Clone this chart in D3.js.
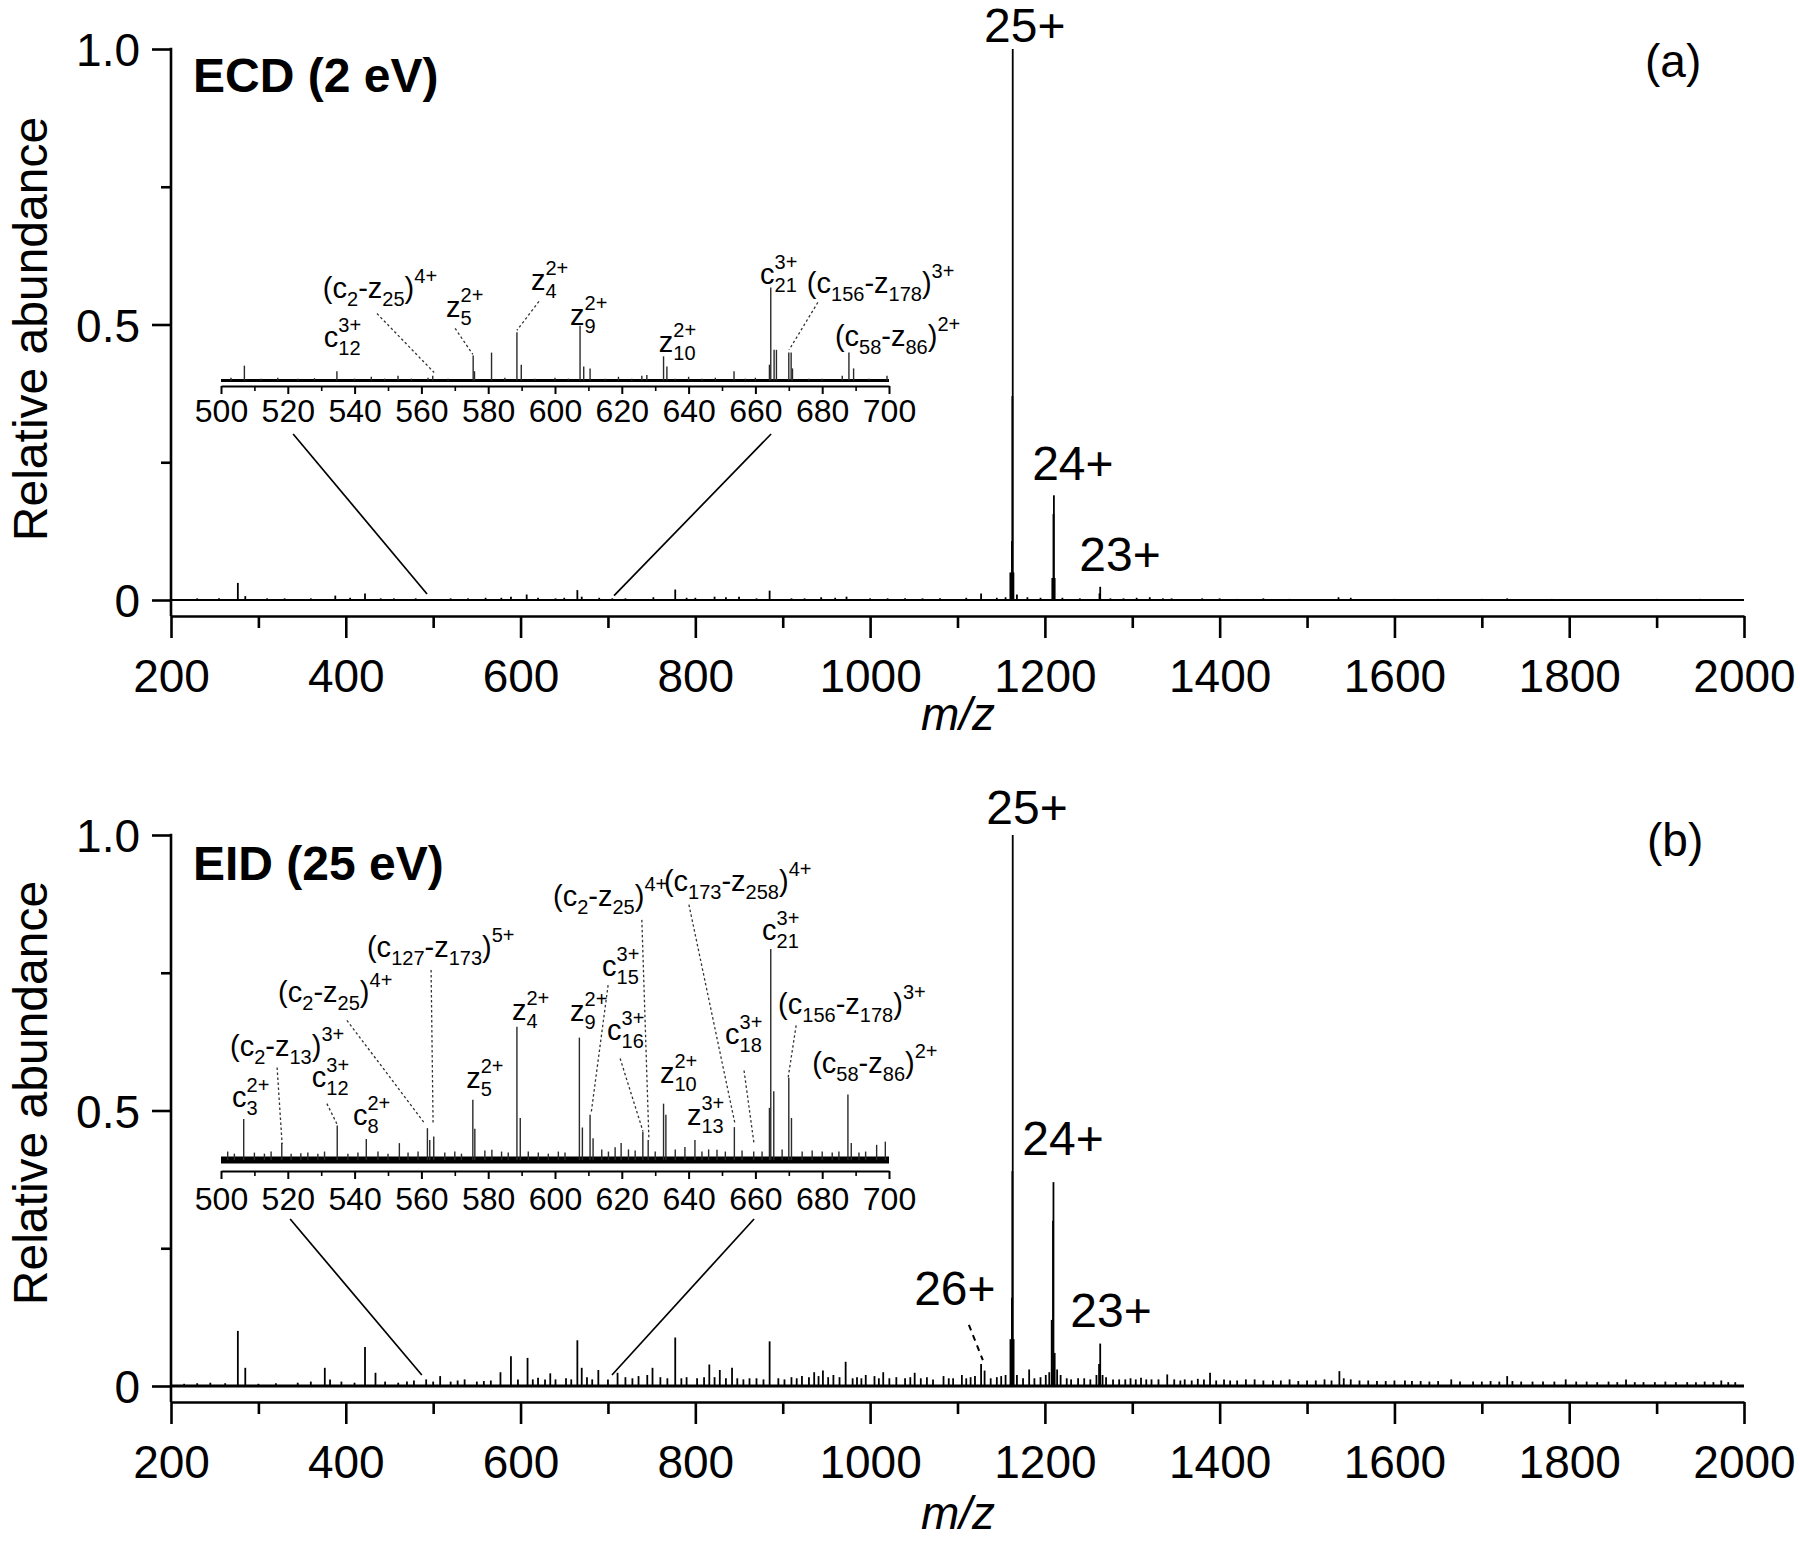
<!DOCTYPE html>
<html><head><meta charset="utf-8">
<script src="https://cdn.jsdelivr.net/npm/d3@7"></script>
<style>
body{margin:0;background:#fff}
svg{display:block;background:#fff}
</style>
</head><body>
<script>
// ---------------- DATA ----------------
const xTicksMajor = [200,400,600,800,1000,1200,1400,1600,1800,2000];
const xTicksMinor = [300,500,700,900,1100,1300,1500,1700,1900];
const yTicksMajor = [0,0.5,1.0];
const yTicksMinor = [0.25,0.75];
const insetTicksMajor = [500,520,540,560,580,600,620,640,660,680,700];
const insetTicksMinor = [510,530,550,570,590,610,630,650,670,690];

// (a) ECD main spectrum: [m/z, relative abundance]
const ecdPeaks = [
[230,0.003],[255,0.003],[276.5,0.031],[285,0.007],[310,0.003],[330,0.003],[360,0.003],[388,0.008],[405,0.004],[422,0.012],[440,0.003],[455,0.003],[480,0.003],[520,0.003],[540,0.003],[560,0.004],[578,0.004],[589,0.006],[607,0.010],[620,0.004],[640,0.003],[650,0.004],[665,0.018],[670,0.006],[690,0.004],[705,0.003],[720,0.003],[752,0.005],[777,0.019],[790,0.004],[800,0.004],[822,0.006],[835,0.005],[850,0.006],[870,0.003],[885,0.017],[910,0.003],[925,0.003],[944,0.005],[960,0.004],[973,0.006],[1000,0.003],[1020,0.003],[1040,0.003],[1060,0.003],[1080,0.003],[1110,0.004],[1127,0.012],[1145,0.004],[1155,0.005],[1160.5,0.05],[1162.3,0.107],[1162.8,0.37],[1163.2,1.0],[1164.0,0.05],[1168,0.01],[1180,0.005],[1195,0.004],[1208.5,0.04],[1209.8,0.156],[1210.3,0.19],[1211.2,0.04],[1220,0.004],[1240,0.003],[1262.5,0.012],[1263.3,0.024],[1275,0.003],[1290,0.003],[1305,0.004],[1320,0.005],[1335,0.003],[1345,0.003],[1380,0.003],[1400,0.003],[1420,0.002],[1450,0.003],[1480,0.002],[1500,0.002],[1536,0.005],[1550,0.004],[1600,0.002],[1650,0.002],[1700,0.002],[1729,0.003],[1780,0.002],[1850,0.002],[1900,0.002],[1950,0.002]
];

// (b) EID main spectrum: [m/z, relative abundance]
const eidPeaks = [
[215,0.004],[230,0.005],[245,0.006],[262,0.005],[276.5,0.10],[285,0.033],[300,0.004],[320,0.005],[345,0.006],[360,0.008],[376,0.033],[382,0.012],[395,0.008],[410,0.006],[422,0.071],[434,0.024],[445,0.008],[460,0.006],[470,0.008],[478,0.010],[492,0.012],[500,0.008],[508,0.018],[520,0.008],[528,0.010],[536,0.012],[550,0.008],[558,0.009],[566,0.010],[577,0.025],[589,0.054],[597,0.012],[608,0.051],[614,0.012],[620,0.015],[628,0.012],[634,0.023],[640,0.012],[652,0.014],[658,0.012],[665,0.083],[670,0.033],[676,0.016],[682,0.012],[689,0.029],[700,0.012],[711,0.024],[720,0.016],[728,0.014],[735,0.018],[745,0.02],[751,0.033],[760,0.016],[768,0.014],[777,0.088],[784,0.014],[790,0.016],[802,0.014],[810,0.016],[816,0.039],[822,0.016],[828,0.029],[835,0.014],[842,0.033],[848,0.014],[855,0.012],[862,0.014],[870,0.014],[878,0.012],[885,0.081],[895,0.014],[902,0.012],[910,0.016],[916,0.014],[922,0.018],[930,0.016],[936,0.025],[941,0.018],[946,0.028],[952,0.016],[958,0.02],[965,0.016],[972,0.044],[980,0.014],[985,0.016],[990,0.014],[995,0.02],[1005,0.018],[1010,0.014],[1015,0.025],[1022,0.014],[1030,0.016],[1040,0.014],[1046,0.016],[1051,0.024],[1058,0.014],[1065,0.016],[1072,0.012],[1084,0.018],[1090,0.014],[1095,0.014],[1105,0.02],[1110,0.014],[1115,0.016],[1120,0.018],[1127,0.04],[1131,0.028],[1138,0.014],[1145,0.016],[1150,0.018],[1155,0.02],[1160.6,0.085],[1162.3,0.16],[1162.8,0.39],[1163.2,1.0],[1164.2,0.085],[1168,0.02],[1175,0.014],[1182,0.03],[1188,0.014],[1195,0.016],[1201,0.02],[1205,0.025],[1207.8,0.12],[1209.3,0.30],[1209.8,0.37],[1211.2,0.06],[1214,0.03],[1218,0.02],[1225,0.014],[1230,0.012],[1238,0.014],[1245,0.014],[1252,0.012],[1259,0.02],[1262,0.04],[1263.3,0.077],[1266,0.02],[1270,0.016],[1278,0.012],[1285,0.012],[1292,0.012],[1298,0.014],[1304,0.012],[1310,0.015],[1316,0.012],[1322,0.012],[1330,0.012],[1340,0.021],[1348,0.012],[1355,0.01],[1360,0.012],[1368,0.01],[1375,0.013],[1382,0.012],[1389,0.024],[1396,0.01],[1405,0.012],[1412,0.01],[1420,0.01],[1430,0.012],[1440,0.012],[1450,0.01],[1461,0.01],[1470,0.01],[1480,0.012],[1490,0.009],[1500,0.01],[1510,0.01],[1520,0.012],[1528,0.01],[1537,0.027],[1542,0.014],[1550,0.012],[1560,0.01],[1570,0.01],[1580,0.009],[1590,0.009],[1600,0.01],[1612,0.01],[1620,0.009],[1630,0.009],[1640,0.008],[1650,0.009],[1665,0.012],[1675,0.008],[1690,0.008],[1700,0.008],[1710,0.009],[1720,0.008],[1729,0.018],[1735,0.009],[1745,0.008],[1758,0.008],[1770,0.008],[1783,0.008],[1796,0.012],[1808,0.008],[1820,0.008],[1832,0.007],[1845,0.008],[1855,0.007],[1865,0.012],[1875,0.007],[1885,0.007],[1898,0.007],[1910,0.008],[1922,0.007],[1935,0.007],[1945,0.007],[1955,0.008],[1965,0.007],[1974,0.01],[1982,0.007],[1990,0.007]
];

// inset (500-700) spectra, intensity relative to the c21(3+) peak
const ecdInsetPeaks = [
[503,0.03],[507.0,0.16],[512,0.02],[517,0.03],[523,0.02],[528,0.025],[534.7,0.10],[540,0.02],[545,0.04],[549,0.02],[553,0.05],[557,0.02],[562,0.03],[563.4,0.05],[568,0.02],[575.5,0.27],[575.9,0.10],[581.0,0.30],[585,0.03],[588.6,0.52],[589.9,0.17],[594,0.02],[600,0.03],[604,0.02],[607.5,0.59],[608.6,0.15],[610.5,0.13],[615,0.02],[619,0.04],[623,0.02],[626,0.05],[627.5,0.06],[632.5,0.26],[633.5,0.15],[636,0.02],[640,0.04],[644,0.02],[648,0.03],[653.6,0.10],[657,0.02],[660,0.03],[664.2,0.17],[664.6,1.0],[665.6,0.33],[666.3,0.33],[670.0,0.30],[670.7,0.30],[671.1,0.13],[676,0.02],[680,0.02],[686,0.05],[688.0,0.30],[689.4,0.13],[694,0.02],[699.4,0.05]
];
const eidInsetPeaks = [
[502,0.04],[504,0.03],[506.8,0.194],[510,0.035],[513,0.03],[515,0.04],[518.2,0.08],[521,0.03],[523.9,0.032],[526,0.035],[529,0.03],[531,0.04],[534.8,0.164],[538,0.03],[541,0.035],[543.5,0.10],[547,0.04],[550,0.03],[553.4,0.08],[556,0.035],[559,0.04],[561.8,0.151],[562.5,0.095],[563.7,0.111],[567,0.035],[570,0.04],[572,0.03],[575.4,0.286],[576.0,0.148],[579,0.045],[581.1,0.048],[584,0.04],[586,0.035],[588.6,0.631],[589.6,0.199],[592,0.04],[595,0.035],[598,0.03],[601,0.04],[603,0.035],[607.3,0.580],[608.2,0.154],[610.5,0.215],[611.4,0.103],[614,0.05],[616,0.04],[618,0.06],[619.8,0.08],[622,0.05],[624,0.045],[626.3,0.135],[627.9,0.095],[630,0.04],[632.5,0.267],[633.2,0.215],[636,0.05],[638.9,0.062],[641.9,0.095],[644,0.04],[646,0.05],[648.5,0.048],[651,0.04],[653.7,0.156],[656,0.045],[659.5,0.04],[662,0.04],[664.2,0.247],[664.6,1.0],[665.5,0.326],[668,0.05],[670.0,0.39],[670.8,0.199],[674,0.04],[677,0.045],[680,0.04],[683,0.035],[685,0.04],[687.7,0.31],[688.7,0.08],[691,0.035],[693,0.04],[696.3,0.072],[698.9,0.087]
];

// fragment annotations: text, label anchor [m/z, rel], optional dotted leader [[m/z,rel],[m/z,rel]]
const ecdInsetLabels = [
{text:"c_{12}^{3+}", at:[530.8,0.355]},
{text:"(c_{2}-z_{25})^{4+}", at:[530.5,0.89], leader:[[546.7,0.72],[563.8,0.086]]},
{text:"z_{5}^{2+}", at:[567.4,0.68], leader:[[570.1,0.56],[575.4,0.28]]},
{text:"z_{4}^{2+}", at:[592.8,0.97], leader:[[595.2,0.85],[588.6,0.54]]},
{text:"z_{9}^{2+}", at:[604.5,0.60]},
{text:"z_{10}^{2+}", at:[631.1,0.31]},
{text:"c_{21}^{3+}", at:[661.4,1.04]},
{text:"(c_{156}-z_{178})^{3+}", at:[675.4,0.94], leader:[[678.7,0.84],[670.1,0.33]]},
{text:"(c_{58}-z_{86})^{2+}", at:[683.8,0.37]}
];
const eidInsetLabels = [
{text:"c_{3}^{2+}", at:[503.3,0.252]},
{text:"(c_{2}-z_{13})^{3+}", at:[502.7,0.495], leader:[[516.8,0.438],[518.3,0.076]]},
{text:"c_{12}^{3+}", at:[527.2,0.348], leader:[[531.7,0.267],[534.7,0.171]]},
{text:"c_{8}^{2+}", at:[539.5,0.167]},
{text:"(c_{2}-z_{25})^{4+}", at:[517.1,0.748], leader:[[537.7,0.662],[561.1,0.171]]},
{text:"(c_{127}-z_{173})^{5+}", at:[543.7,0.962], leader:[[562.9,0.90],[563.5,0.171]]},
{text:"z_{5}^{2+}", at:[573.4,0.343]},
{text:"z_{4}^{2+}", at:[587.1,0.662]},
{text:"z_{9}^{2+}", at:[604.5,0.657]},
{text:"c_{15}^{3+}", at:[614.1,0.871], leader:[[615.9,0.829],[610.8,0.219]]},
{text:"c_{16}^{3+}", at:[615.6,0.567], leader:[[619.5,0.481],[626.3,0.138]]},
{text:"(c_{2}-z_{25})^{4+}", at:[599.4,1.205], leader:[[626.0,1.138],[628.1,0.105]]},
{text:"(c_{173}-z_{258})^{4+}", at:[632.6,1.276], leader:[[640.1,1.21],[653.9,0.171]]},
{text:"z_{10}^{2+}", at:[631.4,0.367]},
{text:"z_{13}^{3+}", at:[639.5,0.167]},
{text:"c_{18}^{3+}", at:[650.9,0.548], leader:[[656.6,0.424],[659.6,0.076]]},
{text:"c_{21}^{3+}", at:[662.0,1.043]},
{text:"(c_{156}-z_{178})^{3+}", at:[666.8,0.69], leader:[[672.2,0.638],[669.8,0.39]]},
{text:"(c_{58}-z_{86})^{2+}", at:[677.0,0.41]}
];

// charge state labels on the main spectra (centre m/z, rel. abundance of baseline)
const ecdCharges = [
{text:"25+", at:[1177,1.012]},
{text:"24+", at:[1232,0.218]},
{text:"23+", at:[1286,0.053]}
];
const eidCharges = [
{text:"25+", at:[1179.5,1.02]},
{text:"24+", at:[1220.7,0.419]},
{text:"23+", at:[1275.6,0.107]},
{text:"26+", at:[1097,0.147], leader:[[1113,0.111],[1129,0.047]]}
];

// zoom connectors: inset m/z -> main [m/z, rel]
const ecdConnectors = [{from:521.6, to:[493,0.011]},{from:664.7, to:[707,0.008]}];
const eidConnectors = [{from:520.7, to:[487,0.02]},{from:659.6, to:[704.6,0.02]}];

// ---------------- LAYOUT ----------------
const FONT = '"Liberation Sans", Arial, Helvetica, sans-serif';
const W = 1800, H = 1542;
const svg = d3.select("body").append("svg").attr("width",W).attr("height",H);
svg.append("rect").attr("width",W).attr("height",H).attr("fill","#fff");

const x = d3.scaleLinear().domain([200,2000]).range([171,1744]);

const panels = [
  {peaks:ecdPeaks, yZero:600, yOne:49, axisY:616, baseW:2.2, title:"ECD (2 eV)", titleXY:[193,92], tag:"(a)", tagXY:[1645,77],
   charges:ecdCharges, ylabY:329, mzY:730,
   inset:{peaks:ecdInsetPeaks, labels:ecdInsetLabels, base:380.5, unit:93, axisY:386, baseW:3, pad:5, connectors:ecdConnectors}},
  {peaks:eidPeaks, yZero:1386, yOne:835, axisY:1402, baseW:3.2, title:"EID (25 eV)", titleXY:[193,880], tag:"(b)", tagXY:[1647,856],
   charges:eidCharges, ylabY:1093, mzY:1529,
   inset:{peaks:eidInsetPeaks, labels:eidInsetLabels, base:1160, unit:211, axisY:1171, baseW:7, pad:8, connectors:eidConnectors}}
];

function styleAxis(g, fs){
  g.attr("font-family",FONT).attr("font-size",fs);
  g.selectAll("line").attr("stroke","#000");
  g.selectAll("path").attr("stroke","#000");
  g.selectAll("text").attr("fill","#000");
}

function rich(g, markup, px, py, opt){
  const parts = markup.split(/(_\{[^}]*\}|\^\{[^}]*\})/).filter(s => s.length);
  const toks = parts.map(s => s.startsWith("_{") ? {t:"sub", s:s.slice(2,-1)} :
                              s.startsWith("^{") ? {t:"sup", s:s.slice(2,-1)} : {t:"n", s:s});
  const grp = g.append("g").attr("transform",`translate(${px},${py})`).attr("font-family",FONT).attr("fill","#000");
  let cx = 0;
  const put = (s, dy, fs) => {
    const t = grp.append("text").attr("x",cx).attr("y",dy).attr("font-size",fs).text(s);
    return t.node().getComputedTextLength();
  };
  for (let i = 0; i < toks.length; i++){
    const k = toks[i];
    if (k.t === "n") cx += put(k.s, 0, opt.main);
    else if (k.t === "sub" && toks[i+1] && toks[i+1].t === "sup"){
      const w1 = put(k.s, opt.subDy, opt.small);
      const w2 = put(toks[i+1].s, opt.supDy, opt.small);
      cx += Math.max(w1,w2); i++;
    }
    else if (k.t === "sub") cx += put(k.s, opt.subDy, opt.small);
    else cx += put(k.s, opt.supDy, opt.small);
  }
}

panels.forEach(P => {
  const y = d3.scaleLinear().domain([0,1]).range([P.yZero, P.yOne]);
  const g = svg.append("g");

  // x axis (offset below the baseline)
  const gx = g.append("g").attr("transform",`translate(0,${P.axisY})`)
    .call(d3.axisBottom(x).tickValues(xTicksMajor).tickSize(22).tickSizeOuter(0).tickPadding(21).tickFormat(d3.format("d")));
  styleAxis(gx, 46);
  gx.selectAll("line,path").attr("stroke-width",2.6);
  const gxm = g.append("g").attr("transform",`translate(0,${P.axisY})`)
    .call(d3.axisBottom(x).tickValues(xTicksMinor).tickSize(12).tickFormat(""));
  gxm.select(".domain").remove();
  styleAxis(gxm, 46);
  gxm.selectAll("line").attr("stroke-width",2.6);

  // y axis
  const gy = g.append("g").attr("transform",`translate(${x(200)},0)`)
    .call(d3.axisLeft(y).tickValues(yTicksMajor).tickSize(19).tickPadding(12)
      .tickFormat(d => d === 0 ? "0" : d.toFixed(1)));
  gy.select(".domain").remove();
  styleAxis(gy, 46);
  gy.selectAll("line").attr("stroke-width",2.6);
  gy.selectAll("text").attr("dy","0.36em");
  const gym = g.append("g").attr("transform",`translate(${x(200)},0)`)
    .call(d3.axisLeft(y).tickValues(yTicksMinor).tickSize(10).tickFormat(""));
  gym.select(".domain").remove();
  styleAxis(gym, 46);
  gym.selectAll("line").attr("stroke-width",2.6);
  g.append("line").attr("x1",x(200)).attr("x2",x(200)).attr("y1",y(1)-1.3).attr("y2",P.axisY)
    .attr("stroke","#000").attr("stroke-width",2.6);

  // spectrum
  g.append("line").attr("x1",x(200)).attr("x2",x(2000)).attr("y1",y(0)).attr("y2",y(0))
    .attr("stroke","#000").attr("stroke-width",P.baseW);
  g.append("g").selectAll("line").data(P.peaks).join("line")
    .attr("x1",d => x(d[0])).attr("x2",d => x(d[0]))
    .attr("y1",y(0)).attr("y2",d => y(d[1]))
    .attr("stroke","#000").attr("stroke-width",1.8);

  // charge labels
  P.charges.forEach(c => {
    g.append("text").attr("x",x(c.at[0])).attr("y",y(c.at[1])).attr("text-anchor","middle")
      .attr("font-family",FONT).attr("font-size",48).attr("fill","#000").text(c.text);
    if (c.leader){
      g.append("line").attr("x1",x(c.leader[0][0])).attr("y1",y(c.leader[0][1]))
        .attr("x2",x(c.leader[1][0])).attr("y2",y(c.leader[1][1]))
        .attr("stroke","#000").attr("stroke-width",2).attr("stroke-dasharray","6,5");
    }
  });

  // titles
  g.append("text").attr("x",P.titleXY[0]).attr("y",P.titleXY[1]).attr("font-family",FONT)
    .attr("font-size",48).attr("font-weight","bold").attr("fill","#000").text(P.title);
  g.append("text").attr("x",P.tagXY[0]).attr("y",P.tagXY[1]).attr("font-family",FONT)
    .attr("font-size",46).attr("fill","#000").text(P.tag);
  g.append("text").attr("transform",`translate(47,${P.ylabY}) rotate(-90)`).attr("text-anchor","middle")
    .attr("font-family",FONT).attr("font-size",48).attr("fill","#000").text("Relative abundance");
  g.append("text").attr("x",958).attr("y",P.mzY).attr("text-anchor","middle").attr("font-family",FONT)
    .attr("font-size",46).attr("font-style","italic").attr("fill","#000").text("m/z");

  // ---- inset ----
  const I = P.inset;
  const xi = d3.scaleLinear().domain([500,700]).range([221,889]);
  const yi = d3.scaleLinear().domain([0,1]).range([I.base, I.base - I.unit]);
  const gi = g.append("g");
  const gia = gi.append("g").attr("transform",`translate(0,${I.axisY})`)
    .call(d3.axisBottom(xi).tickValues(insetTicksMajor).tickSize(8).tickSizeOuter(0).tickPadding(I.pad).tickFormat(d3.format("d")));
  styleAxis(gia, 32);
  gia.selectAll("line,path").attr("stroke-width",2);
  const gim = gi.append("g").attr("transform",`translate(0,${I.axisY})`)
    .call(d3.axisBottom(xi).tickValues(insetTicksMinor).tickSize(5).tickFormat(""));
  gim.select(".domain").remove();
  styleAxis(gim, 32);
  gim.selectAll("line").attr("stroke-width",1.6);

  gi.append("line").attr("x1",xi(500)).attr("x2",xi(700)).attr("y1",yi(0)).attr("y2",yi(0))
    .attr("stroke","#000").attr("stroke-width",I.baseW);
  gi.append("g").selectAll("line").data(I.peaks).join("line")
    .attr("x1",d => xi(d[0])).attr("x2",d => xi(d[0]))
    .attr("y1",yi(0)).attr("y2",d => yi(d[1]))
    .attr("stroke","#2a2a2a").attr("stroke-width",1.4);

  I.labels.forEach(L => {
    if (L.leader){
      gi.append("line").attr("x1",xi(L.leader[0][0])).attr("y1",yi(L.leader[0][1]))
        .attr("x2",xi(L.leader[1][0])).attr("y2",yi(L.leader[1][1]))
        .attr("stroke","#333").attr("stroke-width",1.3).attr("stroke-dasharray","2.5,2.5");
    }
    rich(gi, L.text, xi(L.at[0]), yi(L.at[1]), {main:29, small:20, subDy:8, supDy:-15});
  });

  I.connectors.forEach(c => {
    g.append("line").attr("x1",xi(c.from)).attr("y1",I.axisY + 48)
      .attr("x2",x(c.to[0])).attr("y2",y(c.to[1]))
      .attr("stroke","#000").attr("stroke-width",1.7);
  });
});
</script>
</body></html>
